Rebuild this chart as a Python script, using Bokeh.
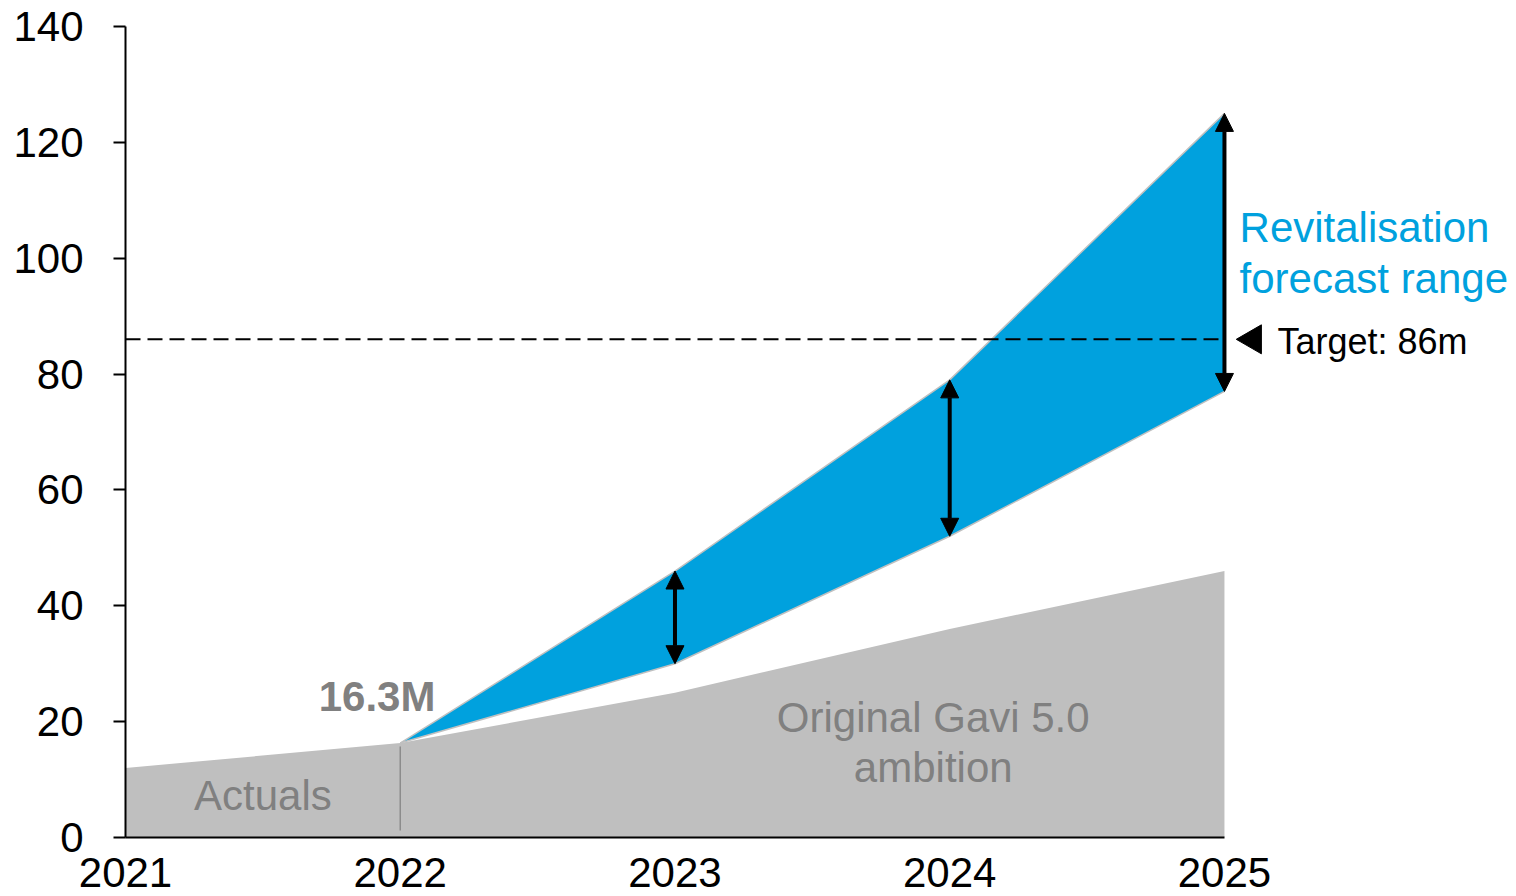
import math
from bokeh.plotting import figure
from bokeh.models import Label, Arrow, NormalHead, FixedTicker
from bokeh.embed import file_html
from bokeh.resources import INLINE

# ---- data ----
years = [2021, 2022, 2023, 2024, 2025]
year_labels = ["2021", "2022", "2023", "2024", "2025"]
original_ambition = [12.0, 16.3, 25.0, 36.0, 46.0]
range_years = [2022, 2023, 2024, 2025]
range_low = [16.3, 30.0, 52.0, 77.0]
range_high = [16.3, 46.0, 79.0, 125.0]
target = 86
y_ticks = [0, 20, 40, 60, 80, 100, 120, 140]

FONT = "Liberation Sans"
BLUE = "#00A1DE"
GREY_FILL = "#BFBFBF"
GREY_TEXT = "#808080"

p = figure(width=1516, height=896,
           x_range=(2021, 2026.063), y_range=(0, 140),
           output_backend="svg", toolbar_location=None,
           min_border_left=125, min_border_right=0,
           min_border_top=26, min_border_bottom=59)
p.outline_line_color = None
p.grid.visible = False
p.background_fill_color = "white"
p.border_fill_color = "white"

# areas
p.varea(x=years, y1=[0] * len(years), y2=original_ambition, fill_color=GREY_FILL)
p.varea(x=range_years, y1=range_low, y2=range_high, fill_color=BLUE)
p.line(range_years, range_high, line_color="#C0C0C0", line_width=1.5)
p.line(range_years, range_low, line_color="#C0C0C0", line_width=1.5)

# actuals divider
p.segment(x0=[years[1]], y0=[1.2], x1=[years[1]], y1=[original_ambition[1] - 0.6],
          line_color="#8C8C8C", line_width=1.5)

# target line
p.line([years[0], years[-1]], [target, target], line_color="black",
       line_width=2, line_dash="15 7")
p.scatter(x=[2025.104], y=[target], marker="triangle", size=29,
          angle=math.pi / 2, fill_color="black", line_color="black")

# range arrows
for x, lo, hi in zip(range_years[1:], range_low[1:], range_high[1:]):
    p.add_layout(Arrow(
        start=NormalHead(size=18, fill_color="black", line_color="black", line_width=1),
        end=NormalHead(size=18, fill_color="black", line_color="black", line_width=1),
        x_start=x, y_start=lo, x_end=x, y_end=hi,
        line_width=4, line_color="black"))

# texts
def lab(x, y, text, size, color, align="left", style="normal"):
    p.add_layout(Label(x=x, y=y, text=text, text_font=FONT,
                       text_font_size=f"{size}px", text_color=color,
                       text_align=align, text_baseline="alphabetic",
                       text_font_style=style))

lab(2021.50, 7.25, "Actuals", 42, GREY_TEXT, "center")
lab(2022.128, 24.3, f"{original_ambition[1]}M", 42, GREY_TEXT, "right", "bold")
lab(2023.94, 20.7, "Original Gavi 5.0", 42, GREY_TEXT, "center")
lab(2023.94, 12.1, "ambition", 42, GREY_TEXT, "center")
lab(2025.055, 105.3, "Revitalisation", 42, BLUE)
lab(2025.055, 96.5, "forecast range", 42, BLUE)
lab(2025.193, 85.7, f"Target: {target}m", 36, "black")

# axes
xa = p.xaxis[0]
xa.ticker = FixedTicker(ticks=years)
xa.major_label_overrides = {y: s for y, s in zip(years, year_labels)}
xa.bounds = (years[0], years[-1])
xa.axis_line_width = 2
xa.axis_line_color = "black"
xa.major_tick_out = 0
xa.major_tick_in = 0
xa.minor_tick_out = 0
xa.minor_tick_in = 0
xa.major_label_text_font = FONT
xa.major_label_text_font_size = "42px"
xa.major_label_text_color = "black"
xa.major_label_standoff = 20

ya = p.yaxis[0]
ya.ticker = FixedTicker(ticks=y_ticks)
ya.axis_line_width = 2
ya.axis_line_color = "black"
ya.major_tick_out = 12
ya.major_tick_in = 0
ya.major_tick_line_width = 2
ya.minor_tick_out = 0
ya.minor_tick_in = 0
ya.major_label_text_font = FONT
ya.major_label_text_font_size = "42px"
ya.major_label_text_color = "black"
ya.major_label_standoff = 30

open("out.html", "w").write(file_html(p, INLINE))
